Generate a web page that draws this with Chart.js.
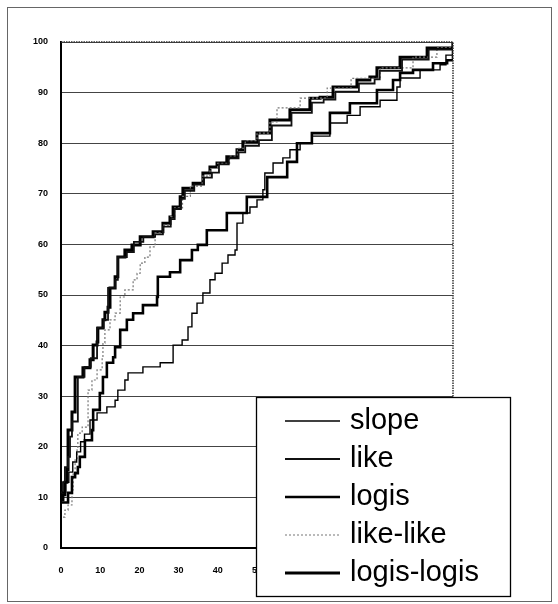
<!DOCTYPE html>
<html>
<head>
<meta charset="utf-8">
<script src="https://cdn.jsdelivr.net/npm/chart.js@4/dist/chart.umd.min.js"></script>
<style>
  html, body { margin: 0; padding: 0; background: #fff; }
  #wrap { width: 558px; height: 604px; }
</style>
</head>
<body>
<div id="wrap"><canvas id="cdf" width="558" height="604"></canvas></div>
<script>
// ---- data (x = 0..100, y = 0..100) ----
const xTicks = [0, 10, 20, 30, 40, 50, 60, 70, 80, 90, 100];
const yTicks = [0, 10, 20, 30, 40, 50, 60, 70, 80, 90, 100];
const seriesNames = ['slope', 'like', 'logis', 'like-like', 'logis-logis'];

const slopeX = [0, 0.5, 1.2, 2, 3, 4, 5, 6, 7.4, 9.2, 11.7, 13.8, 14.5, 16.3, 17.1, 20.9, 25.3, 28.6, 28.6, 30.9, 32.4, 33.4, 34.7, 36.2, 38, 39.3, 41.1, 42.6, 44.4, 44.9, 46.4, 48.2, 50, 51.5, 52, 54.1, 56.6, 58.4, 61, 64, 68.6, 73, 76.3, 81.4, 85.7, 86.5, 91.6, 96.7, 98.2, 100];
const slopeY = [10, 11, 13, 15, 17, 19, 21, 22.5, 25.3, 26.7, 27.9, 29.2, 31.2, 33.2, 34.6, 35.8, 36.6, 36.8, 40.1, 41.1, 43.7, 46.4, 48.4, 50.4, 53, 54.3, 56.3, 57.9, 58.9, 64.2, 66.2, 67.4, 68.8, 70.8, 74.1, 76.1, 77.1, 78.7, 80, 81.4, 84, 85.5, 87.2, 88.5, 91.1, 92.9, 94.5, 95.5, 97.4, 100];

const likeX = [0, 0.5, 1, 1.8, 2.3, 2.8, 4.3, 4.3, 6, 7.6, 9.2, 9.2, 10.9, 12, 12, 13.8, 14.5, 16.8, 18.6, 21, 24, 26, 28, 29, 30.6, 31.6, 34, 36.5, 38.5, 40.3, 42.8, 45.3, 47, 50.5, 53.8, 58.8, 64, 67, 70, 76, 80, 81.3, 87, 93.8, 100];
const likeY = [11, 13, 16, 18, 22, 25, 27, 33.8, 35.8, 37.5, 39.2, 43.5, 45.1, 46, 51.4, 53, 57.5, 58.5, 60.5, 61.5, 62, 63.5, 65, 67, 69, 70.6, 71.8, 73.2, 74.2, 75.8, 77, 78.2, 79.5, 80.6, 83.5, 86, 88, 88.6, 90.2, 91.8, 92.6, 94.3, 96.5, 98.5, 100];

const logisX = [0, 1.8, 2.8, 3.6, 4.3, 4.8, 6.1, 6.1, 7.9, 8.2, 9.9, 10.7, 11.7, 13.3, 13.8, 15.1, 16.8, 18.4, 20.9, 24.5, 24.7, 27.8, 30.4, 33.4, 34.9, 37.2, 42.3, 47.4, 52.6, 57.7, 60.2, 64, 68.6, 73.7, 80.6, 84.7, 86.5, 89.8, 94.9, 98.5, 100];
const logisY = [9, 10.9, 14, 14.8, 16, 18, 19.4, 21.3, 23.3, 27.3, 30.6, 33.8, 36.6, 37.7, 39.7, 43.1, 45.1, 46.4, 48, 49.6, 53.6, 54.5, 56.9, 58.9, 59.9, 62.8, 66.2, 69.4, 73.3, 76.3, 80, 82, 86, 87.9, 90.5, 92.5, 93.9, 94.5, 95.8, 96.4, 100];

const likeLikeX = [0.5, 1, 1.8, 2.8, 3.1, 3.6, 4.1, 4.3, 5.4, 6.9, 6.9, 7.9, 9.2, 10.5, 10.7, 11.2, 12.5, 13.8, 15.1, 16.3, 18.4, 19.4, 20.2, 21.4, 22.7, 24, 26, 28, 29, 31, 33, 36, 38, 40, 43, 45, 47, 50, 53.3, 55.1, 61, 67.9, 74, 81.4, 89.8, 95.9, 100];
const likeLikeY = [6.1, 7.5, 8.5, 11.5, 14.8, 17.4, 19.4, 22.7, 23.9, 27.9, 31.2, 33.2, 35.2, 37.7, 40.5, 43.1, 45.1, 46.4, 49.6, 51, 53, 54.3, 56.3, 57.5, 59.5, 62.3, 63.8, 65.5, 67.2, 69.5, 71.5, 73.5, 75, 76, 77.5, 79, 80.5, 82, 84.2, 87, 88.9, 90.9, 92.8, 94.9, 97, 99, 100];

const logisLogisX = [0, 0.5, 1, 1.5, 1.8, 1.8, 2.8, 3.6, 3.6, 5.6, 7.4, 8.2, 9.2, 9.4, 10.7, 11.2, 12, 12.5, 13.8, 14.5, 16.3, 18.1, 20.2, 23.5, 26, 27.8, 28.6, 30.4, 31.1, 33.7, 36.2, 38, 39.8, 42.3, 44.9, 46.4, 50, 53.3, 58.4, 63.5, 66.1, 69.4, 75.5, 78.8, 80.6, 86.5, 93.4, 100];
const logisLogisY = [9.5, 10.5, 13, 15.5, 18, 23.3, 26.9, 27.9, 33.8, 35.6, 37.2, 40.1, 40.7, 43.5, 45.1, 46.6, 47.6, 51.4, 53.6, 57.5, 58.9, 59.9, 61.5, 62.5, 64.2, 65.4, 67.4, 69.4, 71.1, 72.1, 74.1, 75.3, 76.1, 77.3, 78.7, 80.3, 82, 84.6, 86.6, 88.9, 89.1, 91.1, 92.5, 93.1, 94.9, 97, 98.8, 100];

const toPoints = (xs, ys) => xs.map((x, i) => ({ x, y: ys[i] }));

// =======================================================
// PLUGINS: outer frame, plot border, boxed legend
// =======================================================
const framePlugin = {
  id: 'frame',
  beforeDraw(chart) {
    const c = chart.ctx;
    c.save();
    c.strokeStyle = '#666';
    c.lineWidth = 1;
    c.strokeRect(7.5, 7.5, 544, 594);
    c.restore();
  },
  afterDatasetsDraw(chart) {
    const { ctx: c, chartArea: a } = chart;
    c.save();
    c.strokeStyle = '#333';
    c.lineWidth = 1.5;
    c.setLineDash([1.5, 1]);
    c.beginPath();
    c.moveTo(a.left, a.top);
    c.lineTo(a.right, a.top);
    c.lineTo(a.right, a.bottom);
    c.stroke();
    c.restore();
  }
};

const boxLegend = {
  id: 'boxLegend',
  afterDraw(chart) {
    const c = chart.ctx;
    const box = { x: 256, y: 397, w: 254, h: 199 };
    c.save();
    c.fillStyle = '#fff';
    c.fillRect(box.x, box.y, box.w, box.h);
    c.strokeStyle = '#000';
    c.lineWidth = 1.3;
    c.strokeRect(box.x + 0.5, box.y + 0.5, box.w, box.h);
    chart.data.datasets.forEach((ds, i) => {
      const y = box.y + 24 + i * 38;
      c.strokeStyle = ds.borderColor;
      c.lineWidth = ds.borderWidth;
      c.setLineDash(ds.borderDash || []);
      c.beginPath();
      c.moveTo(285, y);
      c.lineTo(340, y);
      c.stroke();
      c.setLineDash([]);
      c.fillStyle = '#000';
      c.font = '29px "Liberation Sans", Arial, sans-serif';
      c.textBaseline = 'middle';
      c.fillText(ds.label, 350, y);
    });
    c.restore();
  }
};

// =======================================================
// CHART
// =======================================================
const series = [
  { data: toPoints(slopeX, slopeY), color: '#000', width: 1.4 },
  { data: toPoints(likeX, likeY), color: '#111', width: 1.8 },
  { data: toPoints(logisX, logisY), color: '#000', width: 2.6 },
  { data: toPoints(likeLikeX, likeLikeY), color: '#777', width: 1.2, dash: [2, 2] },
  { data: toPoints(logisLogisX, logisLogisY), color: '#000', width: 3 },
];

new Chart(document.getElementById('cdf').getContext('2d'), {
  type: 'line',
  data: {
    datasets: series.map((s, i) => ({
      label: seriesNames[i],
      data: s.data,
      borderColor: s.color,
      borderWidth: s.width,
      borderDash: s.dash || [],
      stepped: true,
      pointRadius: 0,
      fill: false,
    }))
  },
  options: {
    responsive: false,
    animation: false,
    devicePixelRatio: 1,
    layout: { padding: { left: 0, top: 42, right: 105, bottom: 0 } },
    plugins: {
      legend: { display: false },
      tooltip: { enabled: false }
    },
    scales: {
      x: {
        type: 'linear',
        min: 0,
        max: 100,
        afterFit: (s) => { s.height = 56; },
        afterBuildTicks: (s) => { s.ticks = xTicks.map(v => ({ value: v })); },
        grid: { display: false, drawTicks: false },
        border: { display: true, color: '#000', width: 2 },
        ticks: { padding: 17, color: '#000', font: { size: 9, weight: 'bold', family: 'Arial, "Liberation Sans"' } }
      },
      y: {
        min: 0,
        max: 100,
        afterFit: (s) => { s.width = 61; },
        afterBuildTicks: (s) => { s.ticks = yTicks.map(v => ({ value: v })); },
        grid: { color: '#444', lineWidth: 1, drawTicks: false },
        border: { display: true, color: '#000', width: 2 },
        ticks: { padding: 13, color: '#000', font: { size: 9, weight: 'bold', family: 'Arial, "Liberation Sans"' } }
      }
    }
  },
  plugins: [framePlugin, boxLegend]
});
</script>
</body>
</html>
